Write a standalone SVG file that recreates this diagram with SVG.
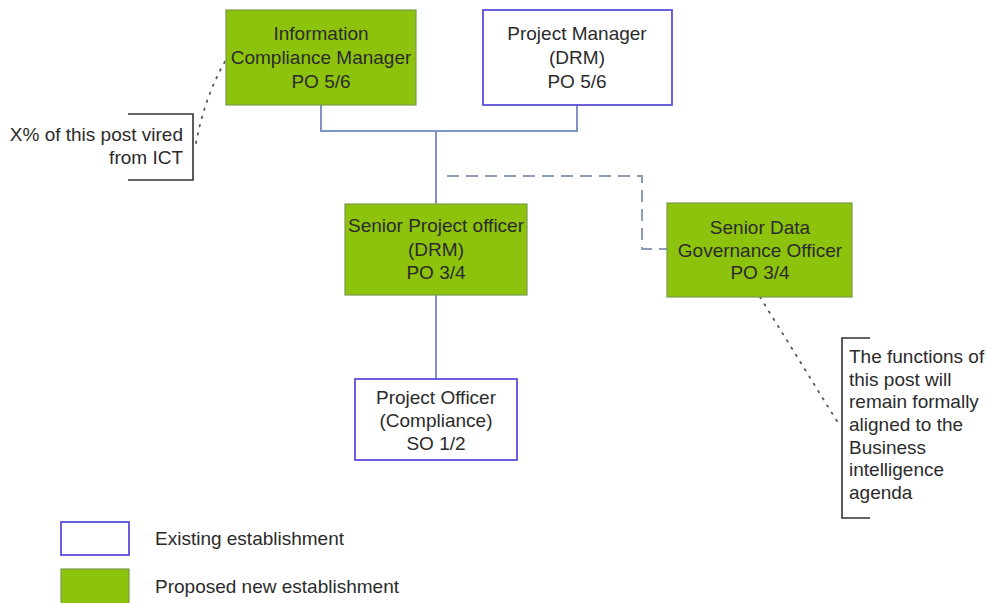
<svg xmlns="http://www.w3.org/2000/svg" width="987" height="603" viewBox="0 0 987 603">
  <style>
    text { font-family: "Liberation Sans", Arial, sans-serif; font-size: 19px; fill: #2b2b2b; }
    .mid { text-anchor: middle; }
    .end { text-anchor: end; }
    .proposed { fill: #8dc30c; stroke: #7a9a4a; stroke-width: 1.2; }
    .existing { fill: #ffffff; stroke: #5a4fdc; stroke-width: 1.8; }
    .link { fill: none; stroke: #7d93c6; stroke-width: 2; }
    .dashed { fill: none; stroke: #8e9bb5; stroke-width: 2; stroke-dasharray: 12 7; }
    .dotted { fill: none; stroke: #555; stroke-width: 1.8; stroke-dasharray: 1.5 7; stroke-linecap: round; }
    .bracket { fill: none; stroke: #333; stroke-width: 1.6; }
  </style>
  <rect width="987" height="603" fill="#ffffff"/>

  <!-- reporting lines -->
  <g id="connectors">
    <path class="link" d="M321 105 V131 H577 V105"/>
    <path class="link" d="M436 131 V204"/>
    <path class="link" d="M436 295 V379"/>
    <path class="dashed" d="M447 176 H642 V249 H667"/>
    <path class="dotted" d="M196 143 Q205 95 227 58"/>
    <path class="dotted" d="M760 297 L840 426"/>
  </g>

  <g id="info-compliance-manager">
    <rect class="proposed" x="226" y="10" width="190" height="95"/>
    <text class="mid" x="321" y="40">Information</text>
    <text class="mid" x="321" y="64">Compliance Manager</text>
    <text class="mid" x="321" y="88">PO 5/6</text>
  </g>

  <g id="project-manager">
    <rect class="existing" x="483" y="10" width="189" height="95"/>
    <text class="mid" x="577" y="40">Project Manager</text>
    <text class="mid" x="577" y="64">(DRM)</text>
    <text class="mid" x="577" y="88">PO 5/6</text>
  </g>

  <g id="senior-project-officer">
    <rect class="proposed" x="345" y="204" width="182" height="91"/>
    <text class="mid" x="436" y="232">Senior Project officer</text>
    <text class="mid" x="436" y="256">(DRM)</text>
    <text class="mid" x="436" y="279">PO 3/4</text>
  </g>

  <g id="senior-data-governance-officer">
    <rect class="proposed" x="667" y="203" width="185" height="94"/>
    <text class="mid" x="760" y="234">Senior Data</text>
    <text class="mid" x="760" y="257">Governance Officer</text>
    <text class="mid" x="760" y="279">PO 3/4</text>
  </g>

  <g id="project-officer">
    <rect class="existing" x="355" y="379" width="162" height="81"/>
    <text class="mid" x="436" y="404">Project Officer</text>
    <text class="mid" x="436" y="427">(Compliance)</text>
    <text class="mid" x="436" y="450">SO 1/2</text>
  </g>

  <g id="note-ict">
    <path class="bracket" d="M128 114 H193 V180 H128"/>
    <text class="end" x="183" y="141">X% of this post vired</text>
    <text class="end" x="183" y="164">from ICT</text>
  </g>

  <g id="note-bi">
    <path class="bracket" d="M870 338 H842 V518 H870"/>
    <text x="849" y="363">The functions of</text>
    <text x="849" y="386">this post will</text>
    <text x="849" y="408">remain formally</text>
    <text x="849" y="431">aligned to the</text>
    <text x="849" y="454">Business</text>
    <text x="849" y="476">intelligence</text>
    <text x="849" y="499">agenda</text>
  </g>

  <g id="legend">
    <rect class="existing" x="61" y="522" width="68" height="33"/>
    <text x="155" y="545">Existing establishment</text>
    <rect class="proposed" x="61" y="569" width="68" height="40"/>
    <text x="155" y="593">Proposed new establishment</text>
  </g>
</svg>
